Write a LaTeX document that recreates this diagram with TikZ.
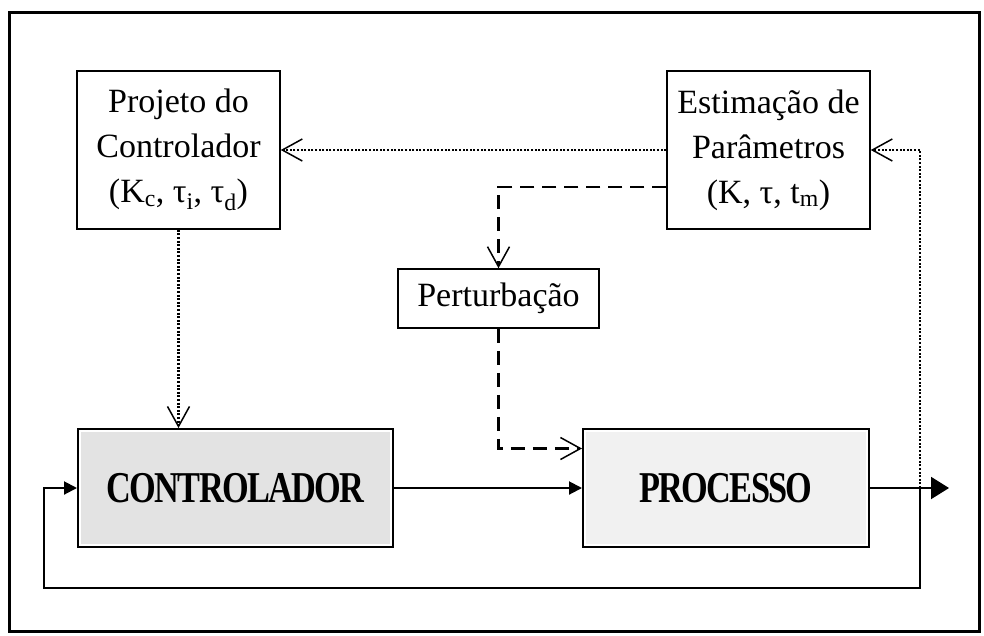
\documentclass[tikz,border=0pt]{standalone}
\usepackage{fontspec}
\usepackage{graphicx}
\setmainfont{Liberation Serif}
\usetikzlibrary{arrows.meta}
\definecolor{ctrlgray}{gray}{0.89}
\definecolor{procgray}{gray}{0.945}
\newcommand{\narrowbold}[1]{\scalebox{0.78}[1]{#1}}
\begin{document}
\begin{tikzpicture}[x=1pt,y=-1pt,
  textbox/.style={draw, line width=1.5pt, inner sep=0pt, align=center,
    font=\fontsize{34}{45}\selectfont},
  mainbox/.style={draw, line width=2pt, inner sep=0pt,
    font=\fontsize{44}{44}\selectfont\bfseries\addfontfeature{LetterSpace=-5},
    path picture={\fill[#1] ([shift={(3pt,-3pt)}]path picture bounding box.north west)
      rectangle ([shift={(-3pt,3pt)}]path picture bounding box.south east);}},
  openhead/.style={-{Straight Barb[length=20pt,width=22pt,line width=1.5pt]}},
  dotline/.style={openhead, line width=2.5pt, dash pattern=on 2pt off 1.6pt},
  thindot/.style={openhead, line width=1.8pt, dash pattern=on 2pt off 1.6pt},
  dashline/.style={openhead, line width=2.5pt, dash pattern=on 14pt off 8pt},
  flow/.style={line width=2pt, -{Triangle[length=13pt,width=13pt]}},
  outflow/.style={line width=2pt, -{Triangle[length=18pt,width=22pt]}}
]
\useasboundingbox (0,0) rectangle (984,635);
% outer frame
\draw[line width=3pt] (9,12) rectangle (979,631);

% blocks
\node[textbox, minimum width=203pt, minimum height=158pt] (proj) at (178.5,150)
  {Projeto do\\Controlador\\(K\textsubscript{c}, τ\textsubscript{i}, τ\textsubscript{d})};
\node[textbox, minimum width=203pt, minimum height=158pt] (est) at (768.5,150)
  {Estimação de\\Parâmetros\\(K, τ, t\textsubscript{m})};
\node[textbox, minimum width=201pt, minimum height=59pt] (pert) at (498.5,298.5)
  {Perturbação};
\node[mainbox=ctrlgray, minimum width=315pt, minimum height=118pt] (ctrl) at (235.5,488)
  {\narrowbold{CONTROLADOR}};
\node[mainbox=procgray, minimum width=286pt, minimum height=118pt] (proc) at (726,488)
  {\narrowbold{PROCESSO}};

% junction points of the loop
\coordinate (tap) at (920,488);
\coordinate (fbr) at (920,588);
\coordinate (fbl) at (44,588);
\coordinate (out) at (949,488);

% signal paths
\draw[flow] (ctrl.east) -- (proc.west);
\draw[outflow] (proc.east) -- (out);
\draw[flow] (tap) -- (fbr) -- (fbl) |- (ctrl.west);

% adaptation paths
\draw[thindot] (tap) |- (est.east);
\draw[dotline] (est.west) -- (proj.east);
\draw[dotline] (proj.south) -- (proj.south |- ctrl.north);
\draw[dashline] ([yshift=-37pt]est.west) -| (pert.north);
\draw[dashline] (pert.south) |- ([yshift=39.5pt]proc.west);
\end{tikzpicture}
\end{document}
